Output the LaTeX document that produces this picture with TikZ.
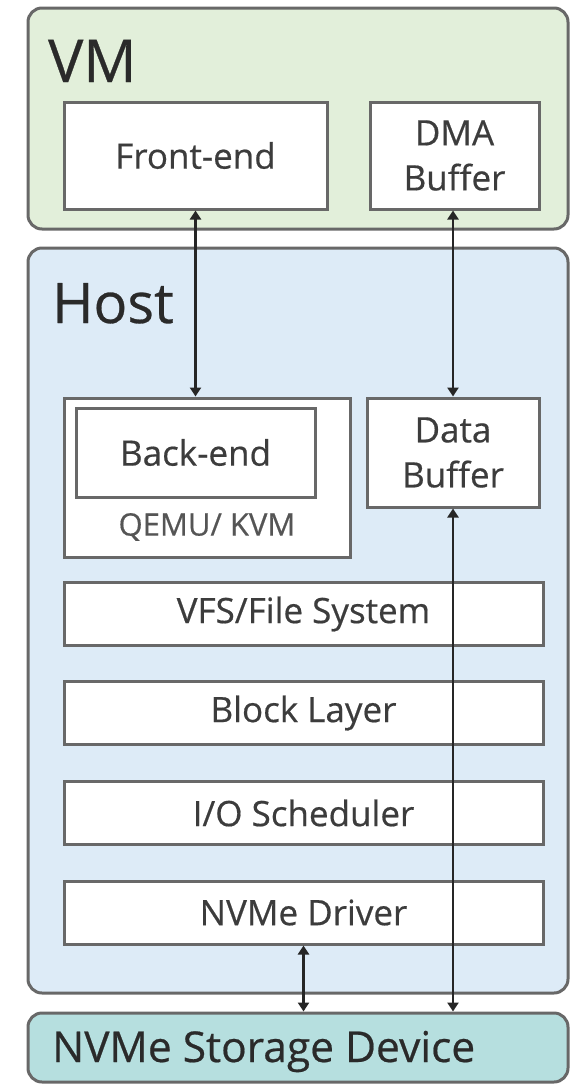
\documentclass[tikz,border=0pt]{standalone}
\usepackage{fontspec}
\setmainfont{Open Sans}
\newfontfamily\labelfont[FakeBold=0.5]{Open Sans}
\usetikzlibrary{arrows.meta}
\definecolor{vmfill}{HTML}{E2EFDA}
\definecolor{hostfill}{HTML}{DDEBF7}
\definecolor{devfill}{HTML}{B6DFDF}
\definecolor{edge}{HTML}{686868}
\definecolor{txt}{HTML}{3C3C3C}
\definecolor{subtxt}{HTML}{555555}
\definecolor{title}{HTML}{2A2A2A}
\definecolor{wire}{HTML}{262626}

\tikzset{
  panel/.style={draw=edge, line width=3pt, rounded corners=14pt, inner sep=0pt},
  box/.style={draw=edge, line width=3pt, fill=white, text=txt, inner sep=0pt,
    align=center, font=\labelfont\fontsize{35}{45}\selectfont},
  layer/.style={box, minimum width=479pt, minimum height=63pt},
  heading/.style={anchor=base west, text=title, inner sep=0pt},
  link/.style={{Triangle[length=9pt,width=11pt]}-{Triangle[length=9pt,width=11pt]},
    line width=2.6pt, wire}
}

\begin{document}
\begin{tikzpicture}[x=1pt,y=-1pt]
\useasboundingbox (0,0) rectangle (578,1084);

% outer panels
\node[panel, fill=vmfill, minimum width=540pt, minimum height=221pt] (vm) at (298,118.5) {};
\node[panel, fill=hostfill, minimum width=540pt, minimum height=745pt] (host) at (298,620.5) {};
\node[panel, fill=devfill, minimum width=540pt, minimum height=69pt] (dev) at (298,1047.5) {};

% panel titles
\node[heading, font=\labelfont\fontsize{59}{64}\selectfont] (vmt) at (48,82) {VM};
\node[heading, font=\labelfont\fontsize{56}{60}\selectfont] (hostt) at (52,323) {Host};
\node[heading, font=\labelfont\fontsize{42.5}{48}\selectfont] (devt) at (52,1062) {NVMe Storage Device};

% guest side
\node[box, minimum width=263pt, minimum height=107pt] (fe) at (195.5,155.5) {Front-end};
\node[box, minimum width=169pt, minimum height=107pt] (dma) at (454.5,155.5) {DMA\\Buffer};

% hypervisor and buffer
\node[box, minimum width=286pt, minimum height=159pt] (qemu) at (207,477.5) {};
\node[box, minimum width=239pt, minimum height=89pt] (be) at (195.5,452.5) {Back-end};
\node[text=subtxt, font=\labelfont\fontsize{31}{36}\selectfont, inner sep=0pt] (qemul) at (207,527) {QEMU/ KVM};
\node[box, minimum width=172pt, minimum height=109pt] (db) at (453,452.5) {Data\\Buffer};

% kernel I/O stack
\node[layer] (vfs) at (303.5,614) {VFS/File System};
\node[layer] (blk) at (303.5,713) {Block Layer};
\node[layer] (ios) at (303.5,813) {I/O Scheduler};
\node[layer] (drv) at (303.5,912.5) {NVMe Driver};

% data paths
\draw[link] (fe.south) -- (fe.south |- qemu.north);
\draw[link] (db.north |- dma.south) -- (db.north);
\draw[link] (db.south) -- (db.south |- dev.north);
\draw[link] (drv.south) -- (drv.south |- dev.north);
\end{tikzpicture}
\end{document}
